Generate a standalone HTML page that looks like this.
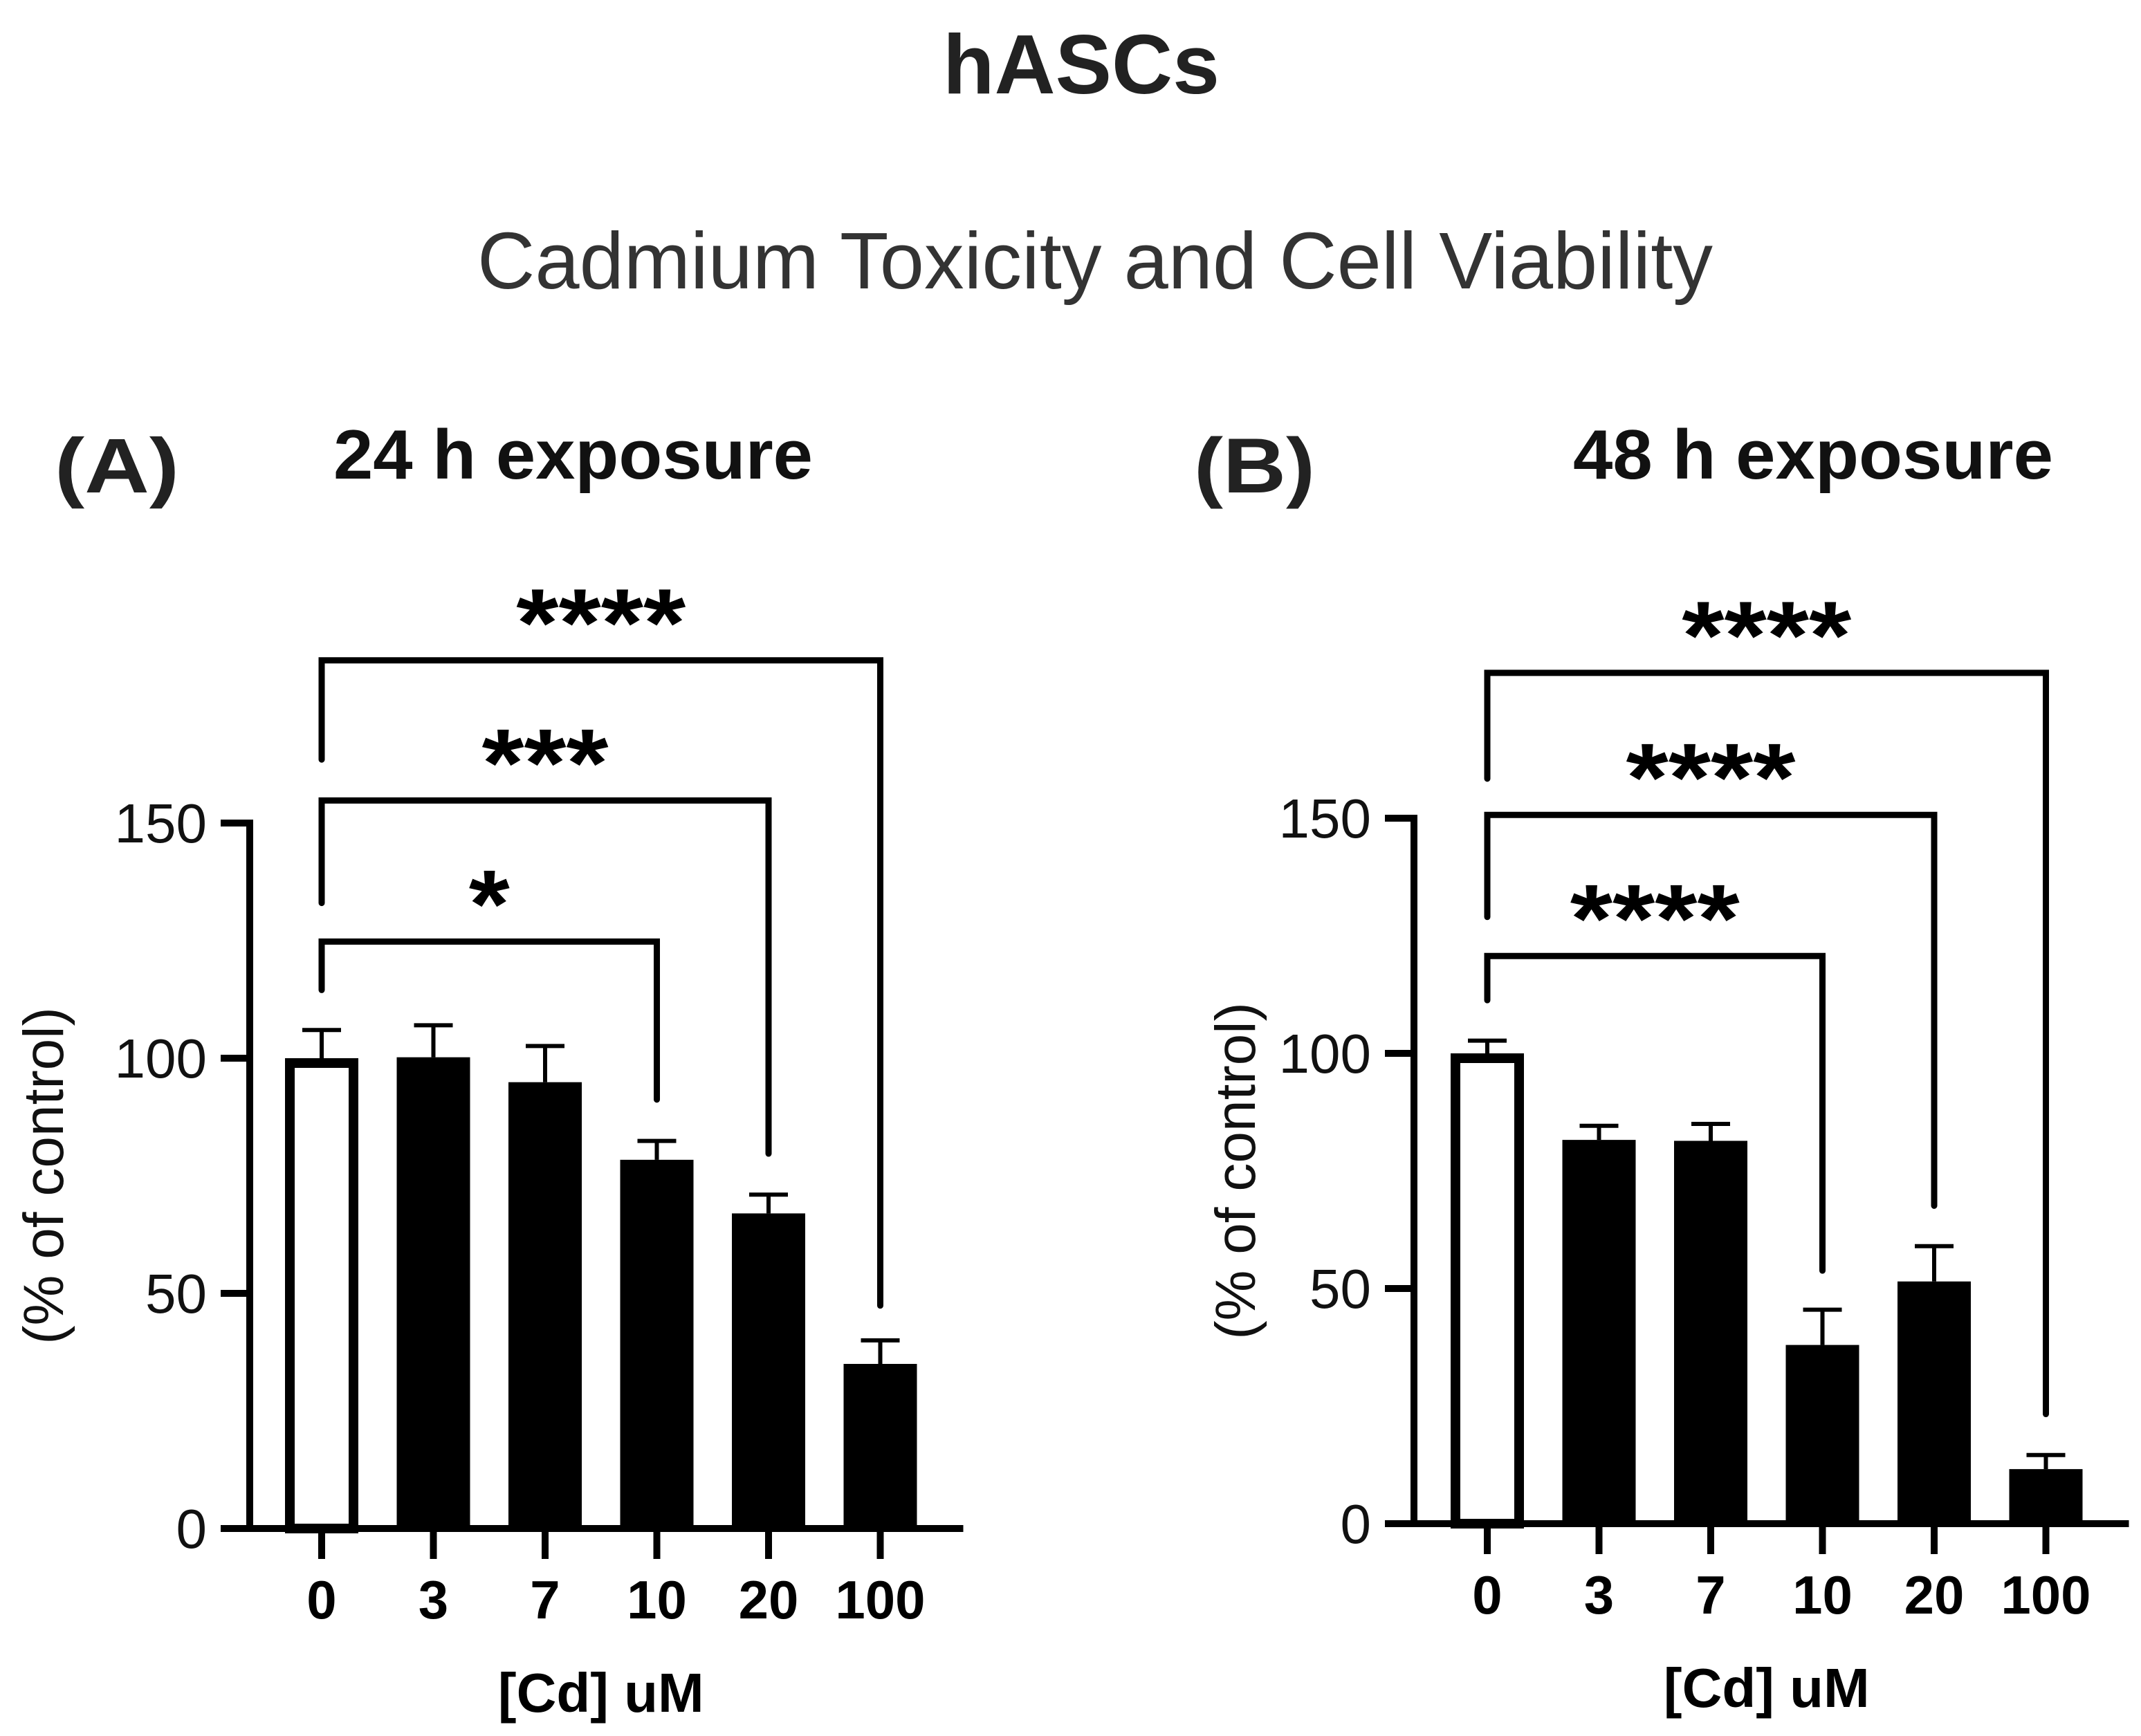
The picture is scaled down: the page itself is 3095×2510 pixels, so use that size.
<!DOCTYPE html>
<html><head><meta charset="utf-8"><style>
html,body{margin:0;padding:0;background:#fff}
svg{display:block}
text{font-family:"Liberation Sans",Arial,sans-serif}
</style></head><body>
<svg id="chart" width="3095" height="2510" viewBox="0 0 3095 2510" xmlns="http://www.w3.org/2000/svg">
<text x="1563" y="135" font-size="122" font-weight="bold" text-anchor="middle" fill="#222">hASCs</text>
<text x="1583" y="417" font-size="116" text-anchor="middle" fill="#333" textLength="1786" lengthAdjust="spacingAndGlyphs">Cadmium Toxicity and Cell Viability</text>
<text x="79" y="712" font-size="112" font-weight="bold" fill="#222" textLength="180" lengthAdjust="spacingAndGlyphs">(A)</text>
<text x="482" y="692" font-size="101" font-weight="bold" fill="#111" textLength="693" lengthAdjust="spacingAndGlyphs">24 h exposure</text>
<text x="1726" y="712" font-size="112" font-weight="bold" fill="#222" textLength="175" lengthAdjust="spacingAndGlyphs">(B)</text>
<text x="2274" y="692" font-size="101" font-weight="bold" fill="#111" textLength="694" lengthAdjust="spacingAndGlyphs">48 h exposure</text>
<g id="pA"></g>
<g id="pB"></g>
</svg>
<script>
const categories = ["0","3","7","10","20","100"];
const yTicks = [0,50,100,150];
const valuesA = [100,100.2,94.9,78.4,67,35];
const errorsA = [106,107,102.6,82.4,71,40];
const valuesB = [100,81.6,81.4,38,51.5,11.6];
const errorsB = [102.7,84.6,85,45.5,59,14.6];
// brackets: [toIndex, barY, leftLegEnd, rightLegEnd]
const bracketsA = [[3,124.8,114.5,91.2],[4,154.8,133,79.7],[5,184.6,163.5,47.4]];
const bracketStarsA = ["*","***","****"];
const bracketsB = [[3,120.7,111.3,53.8],[4,150.7,129,67.6],[5,180.9,158.4,23.3]];
const bracketStarsB = ["****","****","****"];

const NS="http://www.w3.org/2000/svg";
function mk(parent,tag,attrs,txt){const e=document.createElementNS(NS,tag);for(const k in attrs)e.setAttribute(k,attrs[k]);if(txt!==undefined)e.textContent=txt;parent.appendChild(e);return e;}

function panel(g,ax,x0,y0,values,errors,brackets,stars,tag,titleX){
  const ppu=6.8, step=161.5, bw=106;
  const Y=v=>y0-v*ppu, X=i=>x0+i*step;
  const ya=mk(g,'line',{x1:ax,y1:Y(150)-5,x2:ax,y2:y0+5,stroke:'#000','stroke-width':10});
  
  
  const xa=mk(g,'line',{x1:ax-42,y1:y0,x2:X(5)+120,y2:y0,stroke:'#000','stroke-width':10});
  
  
  yTicks.forEach(t=>{
    const tl=mk(g,'line',{x1:ax-42,y1:Y(t),x2:ax,y2:Y(t),stroke:'#000','stroke-width':10});
    
    
    const tx=mk(g,'text',{x:ax-62,y:Y(t)+28,'font-size':80,'text-anchor':'end',fill:'#111'},String(t));
    
    
  });
  categories.forEach((c,i)=>{
    const cx=X(i);
    const tk=mk(g,'line',{x1:cx,y1:y0,x2:cx,y2:y0+44,stroke:'#000','stroke-width':10});
    
    
    const lb=mk(g,'text',{x:cx,y:y0+130,'font-size':78,'font-weight':'bold','text-anchor':'middle',fill:'#000'},c);
    
    
    const eb=mk(g,'path',{d:`M${cx},${Y(values[i])} V${Y(errors[i])} M${cx-28},${Y(errors[i])} H${cx+28}`,stroke:'#000','stroke-width':6,fill:'none'});
    
    
    let r;
    if(i===0){
      r=mk(g,'rect',{x:cx-bw/2+7,y:Y(values[i])+7,width:bw-14,height:y0-Y(values[i])-7,fill:'#fff',stroke:'#000','stroke-width':14});
    } else {
      r=mk(g,'rect',{x:cx-bw/2,y:Y(values[i]),width:bw,height:y0-Y(values[i]),fill:'#000'});
    }
    
    
  });
  brackets.forEach((b,k)=>{
    const x1=X(0), x2=X(b[0]);
    const p=mk(g,'path',{d:`M${x1},${Y(b[2])} V${Y(b[1])} H${x2} V${Y(b[3])}`,stroke:'#000','stroke-width':9,fill:'none','stroke-linecap':'round'});
    
    
    const s=stars[k];
    const st=mk(g,'text',{x:(x1+x2)/2,y:Y(b[1])-6,'font-size':140,'font-weight':'bold','text-anchor':'middle',fill:'#000',textLength:62*s.length-3,lengthAdjust:'spacingAndGlyphs'},s);
    
    
  });
  const yt=mk(g,'text',{x:0,y:0,'font-size':82,'text-anchor':'middle',fill:'#111',transform:`translate(${titleX},${Y(75)}) rotate(-90)`},'(% of control)');
  
  
  const xt=mk(g,'text',{x:(X(0)+X(5))/2,y:y0+265,'font-size':80,'font-weight':'bold','text-anchor':'middle',fill:'#000'},'[Cd] uM');
  
  
}
panel(document.getElementById('pA'),361,465,2210,valuesA,errorsA,bracketsA,bracketStarsA,'a',91);
panel(document.getElementById('pB'),2044,2150,2203,valuesB,errorsB,bracketsB,bracketStarsB,'b',1814);
</script>
</body></html>
